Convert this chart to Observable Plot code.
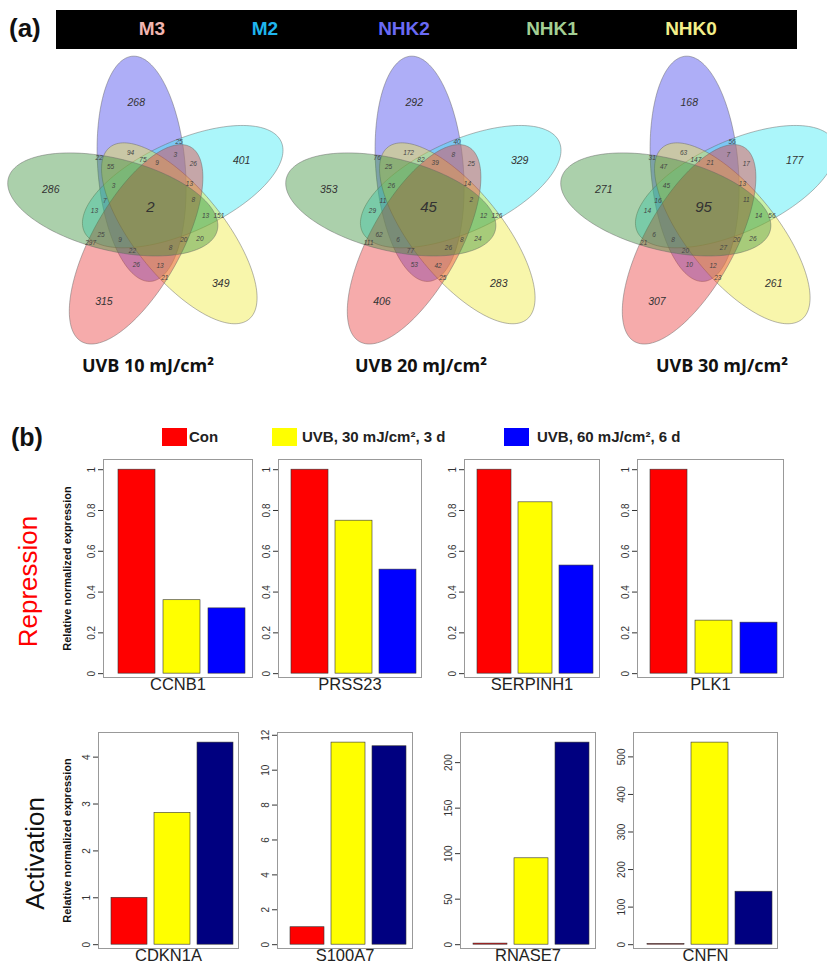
<!DOCTYPE html>
<html><head><meta charset="utf-8">
<script src="https://cdn.jsdelivr.net/npm/d3@7"></script>
<script src="https://cdn.jsdelivr.net/npm/@observablehq/plot@0.6"></script>
<style>
body{margin:0;background:#fff;}
#page{position:relative;width:827px;height:973px;overflow:hidden;font-family:"Liberation Sans",Arial,sans-serif;}
#page > *{position:absolute;}
</style></head><body><div id="page"></div>
<script>
// ---------------- DATA ----------------
const headerSets = ["M3", "M2", "NHK2", "NHK1", "NHK0"];
// region keys: B=NHK2, C=M2, Y=NHK0, R=M3, G=NHK1
const regionKeys = ["B","C","Y","R","G",
  "BC","CY","YR","RG","BG",
  "BY","CR","YG","BR","CG",
  "BCR","CYG","BYR","CRG","BYG",
  "BCY","CYR","YRG","BRG","BCG",
  "BCYR","CYRG","BYRG","BCRG","BCYG",
  "BCYRG"];
const uvb10 = [268,401,349,315,286, 25,151,21,297,22, 94,26,20,26,13, 3,13,13,25,55, 75,13,20,22,7, 9,8,8,9,3, 2];
const uvb20 = [292,329,283,406,353, 40,126,25,111,76, 172,25,24,53,29, 8,12,42,62,25, 82,14,8,77,11, 39,2,26,6,26, 45];
const uvb30 = [168,177,261,307,271, 56,56,23,21,31, 63,17,26,10,14, 7,14,12,6,47, 147,13,20,20,16, 21,11,27,8,45, 95];
const doseLabels = ["UVB 10 mJ/cm²", "UVB 20 mJ/cm²", "UVB 30 mJ/cm²"];

const conditions = ["Con", "UVB, 30 mJ/cm², 3 d", "UVB, 60 mJ/cm², 6 d"];
const repGenes = ["CCNB1", "PRSS23", "SERPINH1", "PLK1"];
const repValues = [[1, 0.36, 0.32], [1, 0.75, 0.51], [1, 0.84, 0.53], [1, 0.26, 0.25]];
const repTicks = [[0,0.2,0.4,0.6,0.8,1],[0,0.2,0.4,0.6,0.8,1],[0,0.2,0.4,0.6,0.8,1],[0,0.2,0.4,0.6,0.8,1]];
const actGenes = ["CDKN1A", "S100A7", "RNASE7", "CNFN"];
const actValues = [[1, 2.81, 4.31], [1, 11.58, 11.37], [1.2, 94.9, 222], [1.5, 538, 141]];
const actTicks = [[0,1,2,3,4],[0,2,4,6,8,10,12],[0,50,100,150,200],[0,100,200,300,400,500]];
const yTitle = "Relative normalized expression";
const rowLabels = ["Repression", "Activation"];

// ---------------- STYLE / LAYOUT ----------------
const headerColors = ["#f2b6b0", "#1fb5ee", "#6a6af5", "#a3cf94", "#f3ef8a"];
const headerX = [152, 265, 404, 552, 691];
const ellCodes = ["B","C","Y","R","G"];
const ellFills = ["#3e3eed", "#37e9f4", "#efe937", "#e93737", "#379037"];
const vennCX = [150, 428, 703], vennCY = 207, titleCX = [148, 421, 722];
const SX = 0.95; // horizontal compression of the Venn drawing
const repColors = ["#ff0000", "#ffff00", "#0000ff"];
const actColors = ["#ff0000", "#ffff00", "#000080"];
const repFrames = [[103,252],[278,421],[464,599],[637,783]], repTop = 459, repBottom = 677;
const actFrames = [[98,238],[277,412],[460,595],[633,777]], actTop = 732, actBottom = 948;
const legendSq = [162, 272, 504], legendTx = [189, 302, 537];

const page = document.getElementById("page");
function put(el, left, top) { el.style.left = left + "px"; el.style.top = top + "px"; page.append(el); return el; }
function div(html, css) { const d = document.createElement("div"); d.innerHTML = html; d.style.cssText = css; return d; }

// ---------------- HEADER (a) ----------------
put(div("(a)", "font:bold 26px 'Liberation Sans Narrow','Liberation Sans',sans-serif;color:#111;"), 9, 13);
put(div("", "width:741px;height:39px;background:#000;"), 56, 10);
headerSets.forEach((s, i) => {
  put(div(s, `font:bold 19px 'Liberation Sans Narrow','Liberation Sans',sans-serif;color:${headerColors[i]};width:80px;text-align:center;`), headerX[i] - 40, 18);
});

// ---------------- VENN GEOMETRY ----------------
const ROT = -2 * Math.PI / 180;
function ell(k) {
  const t = k * 72 * Math.PI / 180 + ROT, c = Math.cos(t), s = Math.sin(t);
  return {k, cx: -8 * c + 39 * s, cy: -8 * s - 39 * c, a: 113, b: 46, ang: (-93 + 72 * k) * Math.PI / 180 + ROT};
}
const E = ellCodes.map((_, k) => ell(k));
function inside(e, x, y) {
  const dx = x - e.cx, dy = y - e.cy;
  const u = dx * Math.cos(e.ang) + dy * Math.sin(e.ang), v = -dx * Math.sin(e.ang) + dy * Math.cos(e.ang);
  return (u / e.a) ** 2 + (v / e.b) ** 2 <= 1;
}
const outline = [];
E.forEach(e => { for (let i = 0; i < 160; i++) { const t = i / 160 * 2 * Math.PI;
  outline.push({k: e.k, x: e.cx + e.a * Math.cos(t) * Math.cos(e.ang) - e.b * Math.sin(t) * Math.sin(e.ang),
                y: e.cy + e.a * Math.cos(t) * Math.sin(e.ang) + e.b * Math.sin(t) * Math.cos(e.ang)}); } });
// label anchor of each region: deepest interior point (distance transform)
const N = 301, O = 150, mask = new Int32Array(N * N), dist = new Float32Array(N * N);
for (let j = 0; j < N; j++) for (let i = 0; i < N; i++) { let m = 0; E.forEach(e => { if (inside(e, i - O, j - O)) m |= 1 << e.k; }); mask[j * N + i] = m; }
for (let j = 0; j < N; j++) for (let i = 0; i < N; i++) { const p = j * N + i, m = mask[p];
  let b = i == 0 || j == 0 || i == N - 1 || j == N - 1;
  if (!b) b = mask[p - 1] != m || mask[p + 1] != m || mask[p - N] != m || mask[p + N] != m;
  dist[p] = b ? 0 : 1e9; }
for (let j = 1; j < N; j++) for (let i = 1; i < N - 1; i++) { const p = j * N + i; dist[p] = Math.min(dist[p], dist[p - 1] + 1, dist[p - N] + 1, dist[p - N - 1] + 1.414, dist[p - N + 1] + 1.414); }
for (let j = N - 2; j >= 0; j--) for (let i = N - 2; i > 0; i--) { const p = j * N + i; dist[p] = Math.min(dist[p], dist[p + 1] + 1, dist[p + N] + 1, dist[p + N + 1] + 1.414, dist[p + N - 1] + 1.414); }
const best = {};
for (let p = 0; p < N * N; p++) { const m = mask[p]; if (!m) continue;
  const x = p % N - O, y = Math.floor(p / N) - O;
  const single = (m & (m - 1)) === 0;
  const score = dist[p] + (single ? 0.38 * Math.hypot(x, y) : 0);
  if (!best[m] || score > best[m].s) best[m] = {s: score, x, y}; }
const anchorOf = key => { let m = 0; for (const ch of key) m |= 1 << ellCodes.indexOf(ch); return best[m]; };

function vennPlot(counts) {
  const lab = regionKeys.map((key, i) => { const a = anchorOf(key) || {x: 0, y: 0}; return {key, x: a.x, y: a.y, n: counts[i]}; });
  return Plot.plot({
    width: 290, height: 300, margin: 0,
    x: {domain: [-145 / SX, 145 / SX]}, y: {domain: [150, -150]}, axis: null,
    style: {background: "transparent", overflow: "visible", fontFamily: "'Liberation Sans',Arial,sans-serif"},
    marks: [
      ...E.map(e => Plot.line(outline.filter(d => d.k === e.k), {x: "x", y: "y", fill: ellFills[e.k], fillOpacity: 0.42, stroke: "#666", strokeWidth: 0.6, strokeOpacity: 0.8, curve: "linear-closed"})),
      Plot.text(lab.filter(d => d.key.length === 1), {x: "x", y: "y", text: "n", fontSize: 10.5, fontStyle: "italic", fill: "#333"}),
      Plot.text(lab.filter(d => d.key.length > 1 && d.key.length < 5), {x: "x", y: "y", text: "n", fontSize: 6.5, fontStyle: "italic", fill: "#444"}),
      Plot.text(lab.filter(d => d.key.length === 5), {x: "x", y: "y", text: "n", fontSize: 15, fontStyle: "italic", fill: "#333"})
    ]
  });
}
[uvb10, uvb20, uvb30].forEach((counts, i) => {
  put(vennPlot(counts), vennCX[i] - 145, vennCY - 150);
  put(div(doseLabels[i], "font:bold 18px 'Open Sans',sans-serif;color:#111;width:200px;text-align:center;"), titleCX[i] - 100, 353);
});

// ---------------- (b) LEGEND ----------------
put(div("(b)", "font:bold 25px 'Liberation Sans Narrow','Liberation Sans',sans-serif;color:#111;"), 11, 423);
conditions.forEach((c, i) => {
  put(div("", `width:25px;height:18px;background:${repColors[i]};`), legendSq[i], 428);
  put(div(c, "font:bold 15px 'Liberation Sans',Arial,sans-serif;color:#222;white-space:nowrap;"), legendTx[i], 428);
});

// ---------------- BAR CHARTS ----------------
function barPlot(gene, vals, ticks, colors, fl, fr, ft, fb, first, rowLabel, rowFill, rowDx, titleDx) {
  const ml = first ? 100 : 32, mr = 6, mt = 8, mb = 34;
  const data = conditions.map((c, i) => ({c, v: vals[i]}));
  const hi = 1.05 * d3.max(vals), lo = -0.018 * hi;
  const marks = [
    Plot.barY(data, {x: "c", y: "v", fill: "c", stroke: "#333", strokeWidth: 0.6}),
    Plot.frame({stroke: "#999"}),
    Plot.axisY({ticks, tickRotate: -90, tickSize: 5, tickFormat: d3.format("~g"), fontSize: 10, label: null, color: "#333"}),
    Plot.text([gene], {text: d => d, frameAnchor: "bottom", dy: 12, fontSize: 16.5, fill: "#222"})
  ];
  if (first) {
    marks.push(Plot.text([yTitle], {text: d => d, frameAnchor: "left", textAnchor: "middle", rotate: -90, dx: titleDx, fontWeight: "bold", fontSize: 11, fill: "#111"}));
    marks.push(Plot.text([rowLabel], {text: d => d, frameAnchor: "left", textAnchor: "middle", rotate: -90, dx: rowDx, dy: 13, fontSize: 26, fill: rowFill}));
  }
  const p = Plot.plot({
    width: fr - fl + ml + mr, height: fb - ft + mt + mb,
    marginLeft: ml, marginRight: mr, marginTop: mt, marginBottom: mb,
    x: {type: "band", domain: conditions, paddingInner: 0.1667, paddingOuter: 0.2033, align: 0.705, axis: null},
    y: {domain: [lo, hi], axis: null},
    color: {domain: conditions, range: colors},
    style: {background: "transparent", overflow: "visible", fontFamily: "'Liberation Sans',Arial,sans-serif"},
    marks
  });
  put(p, fl - ml, ft - mt);
}
repGenes.forEach((g, i) => barPlot(g, repValues[i], repTicks[i], repColors, repFrames[i][0], repFrames[i][1], repTop, repBottom, i === 0, rowLabels[0], "#ff0000", -75, -36));
actGenes.forEach((g, i) => barPlot(g, actValues[i], actTicks[i], actColors, actFrames[i][0], actFrames[i][1], actTop, actBottom, i === 0, rowLabels[1], "#111", -63, -31));
</script></body></html>
